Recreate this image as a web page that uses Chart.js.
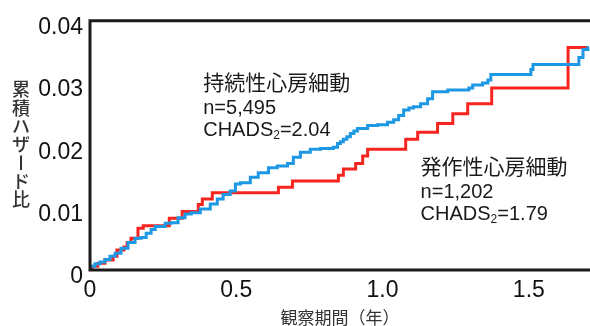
<!DOCTYPE html>
<html>
<head>
<meta charset="utf-8">
<script src="https://cdn.jsdelivr.net/npm/chart.js@4.4.1/dist/chart.umd.min.js"></script>
<style>
  html, body { margin: 0; padding: 0; background: #fff; }
</style>
</head>
<body>
<canvas id="chartHazard" width="590" height="326"></canvas>
<script>
// 持続性心房細動 (青) : 観察期間(年) と 累積ハザード比
const persistentYears = [0, 0.017, 0.034, 0.051, 0.068, 0.086, 0.106, 0.130, 0.154, 0.175,
    0.192, 0.209, 0.223, 0.257, 0.277, 0.301, 0.325, 0.346, 0.377, 0.411,
    0.435, 0.455, 0.479, 0.497, 0.514, 0.548, 0.575, 0.610, 0.640, 0.675,
    0.695, 0.719, 0.753, 0.788, 0.832, 0.846, 0.856, 0.866, 0.878, 0.890, 0.902, 0.914, 0.949,
    0.983, 1.017, 1.038, 1.055, 1.072, 1.090, 1.106, 1.130, 1.154, 1.171, 1.223,
    1.295, 1.308, 1.342, 1.360, 1.370, 1.507, 1.514, 1.671, 1.685, 1.702, 1.705];
const persistentHazard = [0.0006, 0.0010, 0.0013, 0.0017, 0.0022, 0.0027, 0.0035, 0.0044, 0.0051, 0.0052,
    0.0059, 0.0065, 0.0070, 0.0075, 0.0076, 0.0084, 0.0090, 0.0092, 0.0098, 0.0106,
    0.0114, 0.0121, 0.0127, 0.0138, 0.0140, 0.0149, 0.0156, 0.0164, 0.0167, 0.0171,
    0.0181, 0.0189, 0.0194, 0.0195, 0.0197, 0.0203, 0.0206, 0.0210, 0.0214, 0.0219, 0.0223, 0.0227, 0.0232,
    0.0233, 0.0237, 0.0241, 0.0248, 0.0257, 0.0260, 0.0262, 0.0267, 0.0275, 0.0286, 0.0289,
    0.0292, 0.0297, 0.0300, 0.0305, 0.0314, 0.0322, 0.0330, 0.0341, 0.0354, 0.0357, 0.0357];

// 発作性心房細動 (赤)
const paroxysmalYears = [0, 0.007, 0.027, 0.051, 0.079, 0.092, 0.116, 0.127, 0.140, 0.164,
    0.182, 0.271, 0.315, 0.370, 0.384, 0.418, 0.644, 0.692, 0.849, 0.866,
    0.908, 0.932, 0.949, 1.079, 1.120, 1.188, 1.240, 1.291, 1.373, 1.634, 1.705];
const paroxysmalHazard = [0, 0.0006, 0.0011, 0.0016, 0.0022, 0.0032, 0.0037, 0.0044, 0.0051, 0.0067,
    0.0071, 0.0083, 0.0094, 0.0105, 0.0114, 0.0124, 0.0133, 0.0143, 0.0152, 0.0162,
    0.0171, 0.0183, 0.0194, 0.0210, 0.0221, 0.0235, 0.0251, 0.0267, 0.0292, 0.0357, 0.0357];

const xTicks = [0, 0.5, 1.0, 1.5];
const xTickLabels = ['0', '0.5', '1.0', '1.5'];
const yTicks = [0, 0.01, 0.02, 0.03, 0.04];
const yTickLabels = ['0', '0.01', '0.02', '0.03', '0.04'];

const latinFont = "'Liberation Sans', Arial, Helvetica, sans-serif";
const cjkFont = "'Noto Sans CJK JP', sans-serif";

function toPoints(xs, ys) {
    return xs.map((x, i) => ({ x: x, y: ys[i] }));
}

// 枠線 (左・上・下)
const framePlugin = {
    id: 'frame',
    afterDatasetsDraw(chart) {
        const { ctx, chartArea } = chart;
        ctx.save();
        ctx.strokeStyle = '#1a1a1a';
        ctx.lineWidth = 3;
        ctx.beginPath();
        ctx.moveTo(chart.width, chartArea.top);
        ctx.lineTo(chartArea.left, chartArea.top);
        ctx.lineTo(chartArea.left, chartArea.bottom);
        ctx.lineTo(chart.width, chartArea.bottom);
        ctx.stroke();
        ctx.restore();
    }
};

// グループ名と注記
const groupNotes = [
    { name: '持続性心房細動', n: 'n=5,495', chads: '2.04', x: 0.387, y: 0.0302 },
    { name: '発作性心房細動', n: 'n=1,202', chads: '1.79', x: 1.130, y: 0.0167 }
];

const notePlugin = {
    id: 'notes',
    afterDraw(chart) {
        const { ctx } = chart;
        const xs = chart.scales.x, ys = chart.scales.y;
        ctx.save();
        ctx.fillStyle = '#1a1a1a';
        ctx.textAlign = 'left';
        ctx.textBaseline = 'middle';
        groupNotes.forEach(note => {
            const px = xs.getPixelForValue(note.x);
            const py = ys.getPixelForValue(note.y);
            ctx.font = '21px ' + cjkFont;
            ctx.fillText(note.name, px, py);
            ctx.font = '20px ' + latinFont;
            ctx.fillText(note.n, px, py + 27);
            // CHADS₂=...
            const cy = py + 49;
            ctx.fillText('CHADS', px, cy);
            let w = ctx.measureText('CHADS').width;
            ctx.font = '12px ' + latinFont;
            ctx.fillText('2', px + w, cy + 5);
            w += ctx.measureText('2').width;
            ctx.font = '20px ' + latinFont;
            ctx.fillText('=' + note.chads, px + w, cy);
        });

        // 縦書きの軸タイトル
        const yTitle = '累積ハザード比';
        ctx.fillStyle = '#333';
        ctx.font = '500 18px ' + cjkFont;
        ctx.textAlign = 'center';
        [...yTitle].forEach((ch, i) => {
            const cy = 89.5 + i * 18.3;
            if (ch === 'ー') {
                ctx.save();
                ctx.translate(21, cy);
                ctx.rotate(Math.PI / 2);
                ctx.fillText(ch, 0, 0);
                ctx.restore();
            } else {
                ctx.fillText(ch, 21, cy);
            }
        });
        ctx.restore();
    }
};

const ctxHazard = document.getElementById('chartHazard').getContext('2d');
new Chart(ctxHazard, {
    type: 'line',
    data: {
        datasets: [{
            label: '持続性心房細動',
            data: toPoints(persistentYears, persistentHazard),
            borderColor: '#1c98e4',
            borderWidth: 3,
            stepped: true,
            pointRadius: 0,
            fill: false
        }, {
            label: '発作性心房細動',
            data: toPoints(paroxysmalYears, paroxysmalHazard),
            borderColor: '#f7251f',
            borderWidth: 3,
            stepped: true,
            pointRadius: 0,
            fill: false
        }]
    },
    options: {
        responsive: false,
        animation: false,
        layout: { padding: { top: 18, left: 0, right: 0, bottom: 0 } },
        plugins: {
            legend: { display: false },
            tooltip: { enabled: false }
        },
        scales: {
            x: {
                type: 'linear',
                min: 0,
                max: 1.709,
                grid: { display: false, drawTicks: false },
                border: { display: false },
                afterBuildTicks: axis => { axis.ticks = xTicks.map(v => ({ value: v })); },
                afterFit: axis => { axis.height = 56; axis.paddingRight = 0; },
                ticks: {
                    padding: 9,
                    color: '#111',
                    font: { family: latinFont, size: 23, lineHeight: 1 },
                    callback: (value, index) => xTickLabels[index]
                },
                title: {
                    display: true,
                    text: '観察期間（年）',
                    color: '#333',
                    font: { family: cjkFont, size: 17, lineHeight: 1 },
                    padding: { top: 0, bottom: 0 }
                }
            },
            y: {
                min: 0,
                max: 0.04,
                grid: { display: false, drawTicks: false },
                border: { display: false },
                afterBuildTicks: axis => { axis.ticks = yTicks.map(v => ({ value: v })); },
                afterFit: axis => { axis.width = 90; },
                ticks: {
                    padding: 7,
                    labelOffset: 7,
                    color: '#111',
                    font: { family: latinFont, size: 23 },
                    callback: (value, index) => yTickLabels[index]
                }
            }
        }
    },
    plugins: [framePlugin, notePlugin]
});
</script>
</body>
</html>
